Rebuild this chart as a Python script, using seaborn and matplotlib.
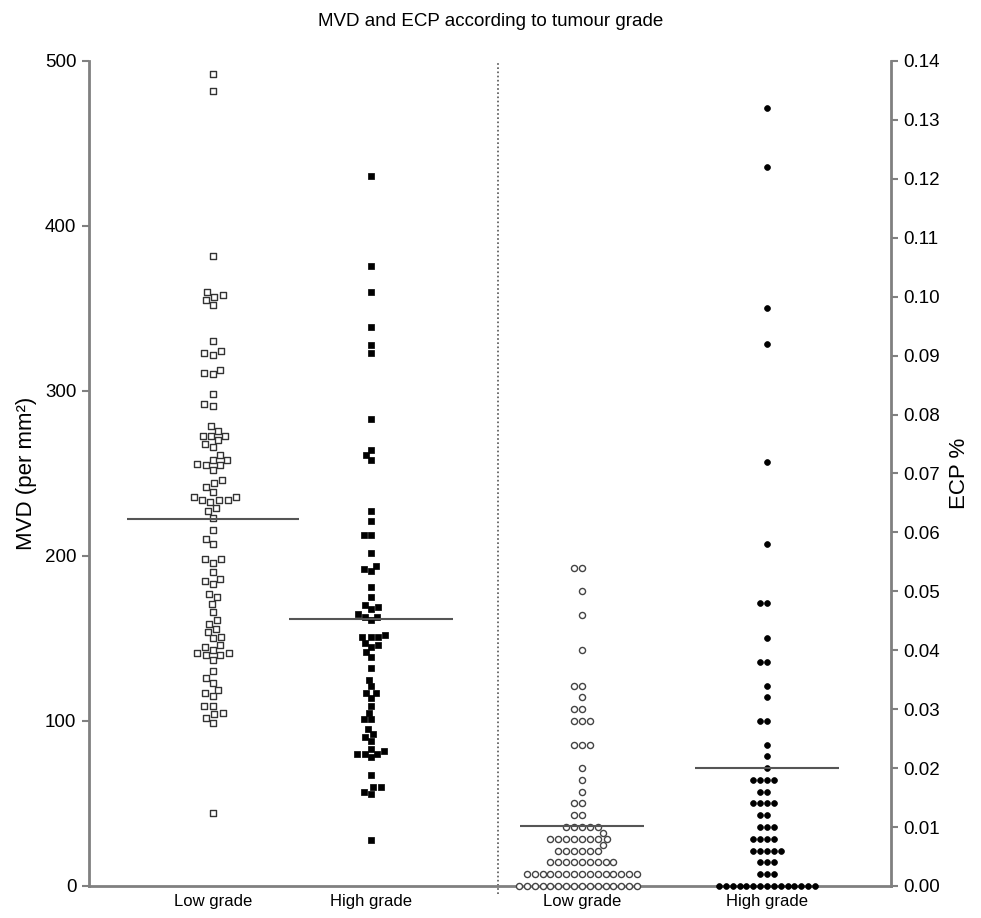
#MVD and ECP by tumour grade - column scatter with two y axes

import numpy as np
import pandas as pd
import matplotlib
matplotlib.use("Agg")
from matplotlib import pyplot as plt
import seaborn as sns

#category labels under the four columns
group_labels = ['Low grade', 'High grade', 'Low grade', 'High grade']

#MVD values (per mm2)
mvd_low = [492, 482, 382, 360, 358, 357, 355, 352, 330, 324, 323, 322, 313, 311, 310,
           298, 292, 291, 279, 276, 273, 273, 273,
           270, 268, 266, 261, 258, 258, 256, 255, 255, 252, 246, 244, 242, 239, 236, 236,
           234, 234, 234, 233, 229, 227, 223, 216, 210, 207, 198, 198, 196, 190, 186, 185,
           183, 177, 175, 171, 166, 161, 159, 156, 154, 151, 150, 146, 145, 143, 141, 141,
           140, 140, 137, 130, 126, 123, 119, 117, 115, 109, 109, 105, 104, 102, 99, 44]
mvd_high = [430, 376, 360, 339, 328, 323, 283, 264, 261, 258, 227, 221, 213, 213, 202,
            194, 192, 191, 181, 175, 170, 169, 168, 165, 163, 163, 161, 152, 151, 151, 151,
            147, 146, 145, 142, 139, 132, 125, 121, 117, 117, 114, 109, 105, 101, 101, 95,
            92, 90, 88, 83, 82, 80, 80, 80, 78, 67, 60, 60, 57, 56, 28]

#ECP values (%)
ecp_low = [0.054, 0.054, 0.050, 0.046, 0.040, 0.034, 0.034, 0.032, 0.030, 0.030,
           0.028, 0.028, 0.028, 0.024, 0.024, 0.024, 0.020, 0.018, 0.016, 0.014, 0.014,
           0.012, 0.012, 0.010, 0.010, 0.010, 0.010, 0.010, 0.009,
           0.008, 0.008, 0.008, 0.008, 0.008, 0.008, 0.008, 0.008, 0.007,
           0.006, 0.006, 0.006, 0.006, 0.006, 0.006,
           0.004, 0.004, 0.004, 0.004, 0.004, 0.004, 0.004, 0.004, 0.004,
           0.002, 0.002, 0.002, 0.002, 0.002, 0.002, 0.002, 0.002, 0.002, 0.002,
           0.002, 0.002, 0.002, 0.002, 0.002,
           0.000, 0.000, 0.000, 0.000, 0.000, 0.000, 0.000, 0.000, 0.000, 0.000,
           0.000, 0.000, 0.000, 0.000, 0.000, 0.000]
ecp_high = [0.132, 0.122, 0.098, 0.092, 0.072, 0.058, 0.048, 0.048, 0.042, 0.038, 0.038,
            0.034, 0.032, 0.028, 0.028, 0.024, 0.022, 0.020,
            0.018, 0.018, 0.018, 0.018, 0.016, 0.016, 0.014, 0.014, 0.014, 0.014,
            0.012, 0.012, 0.010, 0.010, 0.010, 0.008, 0.008, 0.008, 0.008,
            0.006, 0.006, 0.006, 0.006, 0.006, 0.004, 0.004, 0.004, 0.002, 0.002, 0.002,
            0.000, 0.000, 0.000, 0.000, 0.000, 0.000, 0.000, 0.000, 0.000, 0.000,
            0.000, 0.000, 0.000, 0.000, 0.000]

#median lines
mvd_medians = [222.6, 161.8]
ecp_medians = [0.0102, 0.020]

sns.set_theme(style="ticks")
plt.rcParams['font.family'] = ['Liberation Sans', 'DejaVu Sans']
plt.rcParams['text.color'] = 'black'
plt.rcParams['axes.labelcolor'] = 'black'
plt.rcParams['xtick.labelcolor'] = 'black'
plt.rcParams['ytick.labelcolor'] = 'black'

fig = plt.figure(figsize=(9.81, 9.18), dpi=100)
ax = fig.add_axes([0.0907, 0.0349, 0.8175, 0.8987])
ax2 = ax.twinx()

#column centres (x data units) and median line half widths
pos = [0.62, 1.41, 2.465, 3.39]
half_w = [0.43, 0.41, 0.31, 0.36]
grey = '#808080'


def column(a, x, vals, marker, face, edge, size, lw):
    sns.swarmplot(x=np.full(len(vals), x), y=vals, native_scale=True, orient='x',
                  ax=a, marker=marker, size=size, color=edge, linewidth=lw)
    coll = a.collections[-1]
    coll.set_facecolor(face)
    coll.set_edgecolor(edge)
    coll.set_linewidth(lw)
    coll.set_clip_on(False)
    coll.set_zorder(3)


column(ax, pos[0], mvd_low, 's', 'white', '#333333', 5, 1.0)
column(ax, pos[1], mvd_high, 's', 'black', 'black', 4.5, 0.5)
column(ax2, pos[2], ecp_low, 'o', 'white', '#444444', 4.4, 1.0)
column(ax2, pos[3], ecp_high, 'o', 'black', 'black', 4.2, 0.5)

for i in range(2):
    ax.hlines(mvd_medians[i], pos[i] - half_w[i], pos[i] + half_w[i],
              color='#555555', lw=1.5, zorder=4)
    ax2.hlines(ecp_medians[i], pos[i + 2] - half_w[i + 2], pos[i + 2] + half_w[i + 2],
               color='#555555', lw=1.5, zorder=4)

#dotted divider between MVD and ECP halves
ax.axvline(2.045, ymin=-0.01, ymax=1.0, ls=(0, (1, 1.5)), color='#555555', lw=1.2,
           clip_on=False)

ax.set_xlim(0, 4.01)
ax.set_ylim(0, 500)
ax2.set_ylim(0, 0.14)
ax.set_xticks(pos)
ax.set_xticklabels(group_labels)
ax.set_yticks([0, 100, 200, 300, 400, 500])
ax2.set_yticks(np.linspace(0, 0.14, 15))
ax2.yaxis.set_major_formatter(matplotlib.ticker.FormatStrFormatter('%.2f'))

ax.tick_params(axis='x', length=0, pad=6, labelsize=12)
ax.tick_params(axis='y', length=5, width=1.5, color=grey, labelsize=13.5, pad=4)
ax2.tick_params(axis='y', length=5, width=1.5, color=grey, labelsize=13.5, pad=4)

for s in ['top', 'right']:
    ax.spines[s].set_visible(False)
for s in ['top', 'left', 'bottom']:
    ax2.spines[s].set_visible(False)
for sp in [ax.spines['left'], ax.spines['bottom'], ax2.spines['right']]:
    sp.set_color(grey)
    sp.set_linewidth(2)

ax.set_xlabel('')
ax.set_ylabel('MVD (per mm²)', fontsize=16, labelpad=6)
ax2.set_ylabel('ECP %', fontsize=16, labelpad=6)
ax.grid(False)
ax2.grid(False)

fig.text(0.5, 1 - 22 / 918, 'MVD and ECP according to tumour grade', ha='center',
         va='center', fontsize=13.5)

fig.savefig('out.png', dpi=100)
